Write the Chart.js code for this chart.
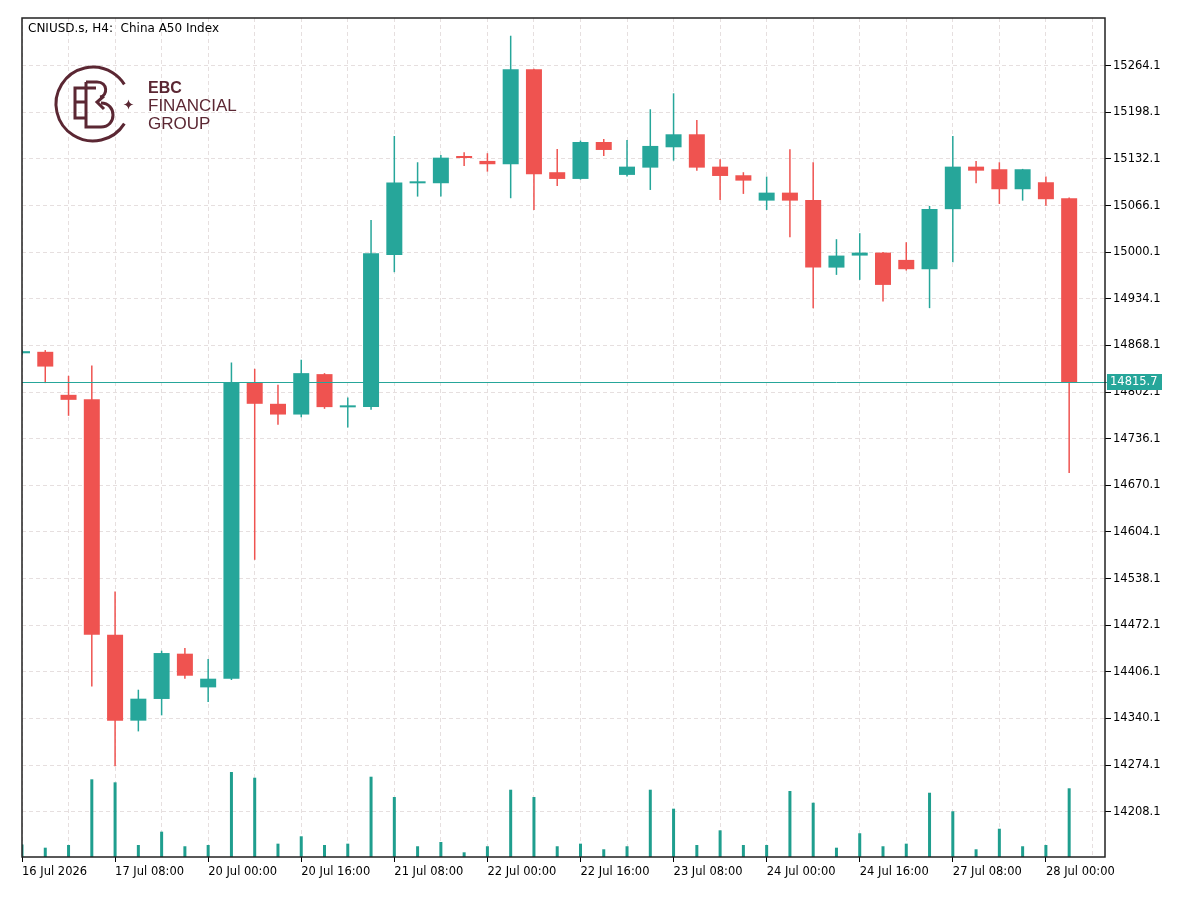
<!DOCTYPE html>
<html>
<head>
<meta charset="utf-8">
<title>CNIUSD.s, H4: China A50 Index</title>
<script src="https://cdn.jsdelivr.net/npm/chart.js@4.4.1/dist/chart.umd.min.js"></script>
<style>
  html, body { margin: 0; padding: 0; background: #fff; }
  canvas { display: block; }
</style>
</head>
<body>
<canvas id="chart" width="1200" height="903"></canvas>
<script>
// H4 bars, 16 Jul 16:00 .. 28 Jul 04:00 (first bar is cut by the left edge)
const opens  = [14857.0, 14859.1, 14798.2, 14792.1, 14458.6, 14337.0, 14367.7, 14431.8, 14384.1, 14396.4,
                14816.2, 14785.5, 14770.3, 14827.5, 14780.5, 14780.8, 14996.3, 15097.6, 15097.7, 15134.6,
                15129.3, 15124.6, 15259.0, 15113.3, 15103.8, 15156.1, 15109.5, 15119.8, 15148.6, 15167.0,
                15121.2, 15109.0, 15073.1, 15084.4, 15074.1, 14978.3, 14995.3, 14999.5, 14989.2, 14976.0,
                15061.0, 15121.2, 15117.5, 15089.2, 15099.1, 15076.5];
const highs  = [14862.0, 14861.5, 14825.1, 14839.7, 14519.9, 14380.8, 14436.0, 14439.8, 14424.3, 14843.9,
                14835.0, 14812.3, 14847.7, 14828.9, 14794.4, 15045.8, 15164.6, 15127.4, 15137.8, 15141.6,
                15140.2, 15306.5, 15259.6, 15146.2, 15158.0, 15160.4, 15159.0, 15202.4, 15225.0, 15187.3,
                15131.7, 15113.3, 15107.1, 15145.8, 15127.4, 15018.5, 15027.0, 15000.2, 15014.2, 15065.6,
                15164.6, 15129.3, 15127.4, 15118.0, 15107.1, 15077.5];
const lows   = [14855.0, 14814.8, 14768.5, 14385.5, 14272.3, 14321.8, 14344.5, 14396.4, 14363.4, 14394.5,
                14564.7, 14755.7, 14766.6, 14778.4, 14751.9, 14777.0, 14971.8, 15078.8, 15078.8, 15122.2,
                15114.1, 15076.5, 15059.9, 15093.9, 15102.9, 15136.3, 15107.1, 15088.2, 15129.7, 15115.5,
                15074.1, 15082.6, 15059.9, 15021.3, 14920.9, 14968.0, 14960.9, 14930.2, 14974.1, 14920.9,
                14985.9, 15097.7, 15068.4, 15073.1, 15066.0, 14687.4];
const closes = [14860.0, 14838.2, 14791.1, 14458.6, 14337.0, 14368.1, 14432.7, 14400.6, 14396.4, 14816.2,
                14785.5, 14770.3, 14828.9, 14780.8, 14781.8, 14998.7, 15098.6, 15099.2, 15133.9, 15133.4,
                15124.6, 15259.0, 15110.4, 15103.8, 15156.1, 15144.8, 15121.2, 15150.5, 15167.0, 15119.8,
                15108.0, 15101.4, 15084.4, 15073.1, 14978.3, 14995.3, 14999.5, 14953.8, 14976.0, 15061.4,
                15121.2, 15115.5, 15089.2, 15117.5, 15075.1, 14815.7];
const volumes = [150, 111, 143, 926, 890, 143, 302, 128, 143, 1013,
                 945, 159, 247, 143, 159, 957, 715, 128, 179, 56,
                 128, 802, 715, 128, 159, 92, 128, 802, 576, 143,
                 318, 143, 143, 787, 647, 111, 283, 128, 159, 766,
                 545, 92, 337, 128, 143, 819];

// one label every 4 bars, starting at bar 0
const xTickLabels = ['16 Jul 2026', '17 Jul 08:00', '20 Jul 00:00', '20 Jul 16:00', '21 Jul 08:00', '22 Jul 00:00',
                     '22 Jul 16:00', '23 Jul 08:00', '24 Jul 00:00', '24 Jul 16:00', '27 Jul 08:00', '28 Jul 00:00'];
const yTicks = [14208.1, 14274.1, 14340.1, 14406.1, 14472.1, 14538.1, 14604.1, 14670.1, 14736.1,
                14802.1, 14868.1, 14934.1, 15000.1, 15066.1, 15132.1, 15198.1, 15264.1];
const lastPrice = 14815.7;
const titleText = 'CNIUSD.s, H4:  China A50 Index';

const BULL = '#26a69a';
const BEAR = '#ef5350';
const GRID = '#e6dfdf';
const FRAME = '#222';
const LOGO = '#5b2733';

const candleColors = closes.map((c, i) => c >= opens[i] ? BULL : BEAR);
const bodies = opens.map((o, i) => ({ x: i, y: [o, closes[i]] }));
const wicks = lows.map((l, i) => ({ x: i, y: [l, highs[i]] }));
const vols = volumes.map((v, i) => ({ x: i, y: v }));
const gridSteps = Array.from({ length: 24 }, (_, k) => k * 2);

Chart.defaults.font.family = '"DejaVu Sans", sans-serif';
Chart.defaults.color = '#000';

function drawLogo(ctx) {
    ctx.save();
    ctx.strokeStyle = LOGO;
    ctx.fillStyle = LOGO;
    ctx.lineWidth = 3;
    ctx.lineJoin = 'miter';
    // ring with an opening on the right
    ctx.beginPath();
    ctx.arc(93, 104, 37, 0.56, Math.PI * 2 - 0.56);
    ctx.stroke();
    // E
    ctx.beginPath();
    ctx.moveTo(96, 88); ctx.lineTo(75, 88); ctx.lineTo(75, 118); ctx.lineTo(86, 118);
    ctx.moveTo(75, 102); ctx.lineTo(86, 102);
    ctx.stroke();
    // B
    ctx.beginPath();
    ctx.moveTo(86, 82); ctx.lineTo(86, 127); ctx.lineTo(101, 127);
    ctx.bezierCurveTo(117, 127, 117, 103, 101, 103);
    ctx.moveTo(86, 82); ctx.lineTo(97, 82);
    ctx.bezierCurveTo(108, 82, 108, 96, 100, 97);
    ctx.stroke();
    // chevron
    ctx.beginPath();
    ctx.moveTo(104, 96); ctx.lineTo(97, 102); ctx.lineTo(104, 109);
    ctx.stroke();
    // star
    ctx.beginPath();
    ctx.moveTo(128.5, 99.5);
    ctx.quadraticCurveTo(129.2, 103.8, 133.5, 104.5);
    ctx.quadraticCurveTo(129.2, 105.2, 128.5, 109.5);
    ctx.quadraticCurveTo(127.8, 105.2, 123.5, 104.5);
    ctx.quadraticCurveTo(127.8, 103.8, 128.5, 99.5);
    ctx.fill();
    // words
    ctx.textBaseline = 'alphabetic';
    ctx.textAlign = 'left';
    ctx.font = 'bold 16px "Liberation Sans", sans-serif';
    ctx.fillText('EBC', 148, 93);
    ctx.font = '17px "Liberation Sans", sans-serif';
    ctx.fillText('FINANCIAL', 148, 111);
    ctx.fillText('GROUP', 148, 128.5);
    ctx.restore();
}

const chartDecor = {
    id: 'chartDecor',
    beforeDatasetsDraw(chart) {
        const ctx = chart.ctx;
        drawLogo(ctx);
        ctx.save();
        ctx.fillStyle = '#000';
        ctx.font = '12px "DejaVu Sans", sans-serif';
        ctx.textBaseline = 'middle';
        ctx.fillText(titleText, 28, 29);
        ctx.restore();
    },
    afterDatasetsDraw(chart) {
        const ctx = chart.ctx, a = chart.chartArea;
        const y = Math.round(chart.scales.y.getPixelForValue(lastPrice)) + 0.5;
        ctx.save();
        ctx.strokeStyle = BULL;
        ctx.lineWidth = 1;
        ctx.beginPath();
        ctx.moveTo(a.left, y);
        ctx.lineTo(a.right + 3, y);
        ctx.stroke();
        ctx.restore();
    },
    afterDraw(chart) {
        const ctx = chart.ctx, a = chart.chartArea;
        ctx.save();
        ctx.strokeStyle = FRAME;
        ctx.lineWidth = 1.5;
        ctx.strokeRect(a.left, a.top, a.right - a.left, a.bottom - a.top);
        // last price tag on the price axis
        const y = chart.scales.y.getPixelForValue(lastPrice);
        ctx.fillStyle = BULL;
        ctx.fillRect(a.right + 2, Math.round(y) - 8, 55, 16);
        ctx.fillStyle = '#fff';
        ctx.font = '11.5px "DejaVu Sans", sans-serif';
        ctx.textBaseline = 'middle';
        ctx.fillText(lastPrice.toFixed(1), a.right + 5, Math.round(y) + 0.5);
        ctx.restore();
    }
};

new Chart(document.getElementById('chart'), {
    type: 'bar',
    data: {
        datasets: [
            { label: 'body', data: bodies, backgroundColor: candleColors, barThickness: 16, minBarLength: 2,
              grouped: false, inflateAmount: 0, order: 1, clip: 0, yAxisID: 'y' },
            { label: 'wick', data: wicks, backgroundColor: candleColors, barThickness: 1.5,
              grouped: false, inflateAmount: 0, order: 2, clip: 0, yAxisID: 'y' },
            { label: 'volume', data: vols, backgroundColor: '#1f9e8e', barThickness: 3,
              grouped: false, inflateAmount: 0, order: 3, clip: 0, yAxisID: 'yv' }
        ]
    },
    options: {
        responsive: false,
        animation: false,
        layout: { padding: { left: 22, top: 18, right: 0, bottom: 0 } },
        plugins: { legend: { display: false }, tooltip: { enabled: false } },
        scales: {
            x: {
                type: 'linear', min: 0, max: 46.54, offset: false,
                afterBuildTicks: s => { s.ticks = gridSteps.map(v => ({ value: v })); },
                afterFit: s => { s.height = 46; },
                grid: {
                    offset: false, color: GRID, lineWidth: 1, tickLength: 5, tickWidth: 1,
                    tickColor: c => (c.tick && c.tick.value % 4 === 0) ? '#000' : 'rgba(0,0,0,0)'
                },
                border: { display: false, dash: [4, 3] },
                ticks: {
                    autoSkip: false, maxRotation: 0, minRotation: 0, align: 'start', padding: 3,
                    color: '#000', font: { size: 11.5 },
                    callback: v => v % 4 === 0 ? xTickLabels[v / 4] : ''
                }
            },
            y: {
                position: 'right', min: 14144.0, max: 15331.6,
                afterBuildTicks: s => { s.ticks = yTicks.map(v => ({ value: v })); },
                afterFit: s => { s.width = 95; },
                grid: { color: GRID, lineWidth: 1, tickLength: 6, tickWidth: 1, tickColor: '#000' },
                border: { display: false, dash: [4, 3] },
                ticks: { padding: 2, color: '#000', font: { size: 11.5 }, callback: v => v.toFixed(1) }
            },
            yv: { display: false, min: 0, max: 10000 }
        }
    },
    plugins: [chartDecor]
});
</script>
</body>
</html>
